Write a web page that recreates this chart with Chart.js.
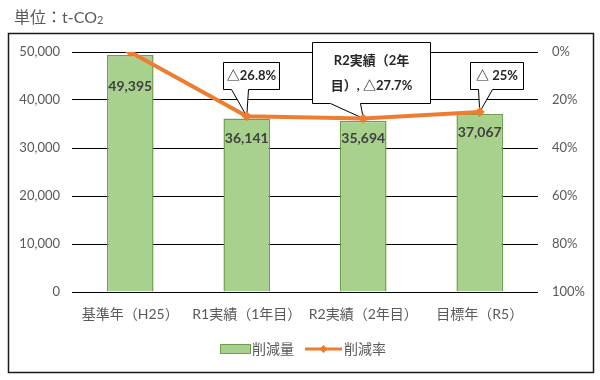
<!DOCTYPE html>
<html>
<head>
<meta charset="utf-8">
<script src="https://cdn.jsdelivr.net/npm/chart.js@4"></script>
<style>
html,body{margin:0;padding:0;background:#fff;}
#wrap{width:600px;height:380px;position:relative;}
</style>
</head>
<body>
<div id="wrap"><canvas id="c" width="600" height="380"></canvas></div>
<script>
const categories = ['基準年（H25）', 'R1実績（1年目）', 'R2実績（2年目）', '目標年（R5）'];
const reductionAmount = [49395, 36141, 35694, 37067];
const reductionRate = [0, 26.8, 27.7, 25];
const seriesNames = ['削減量', '削減率'];
const calloutTexts = [null, ['△26.8%'], ['R2実績（2年', '目）, △27.7%'], ['△ 25%']];
const leftTickValues = [0, 10000, 20000, 30000, 40000, 50000];
const rightTickLabels = ['0%', '20%', '40%', '60%', '80%', '100%'];
const unitTitle = '単位：t-CO';

const FONT = "Lato, 'Noto Sans CJK JP', sans-serif";
const GREEN = '#a9d18e', GREEN_B = '#6f9f4c', ORANGE = '#ed7d31', TXT = '#595959';

const overlay = {
  id: 'overlay',
  beforeDatasetsDraw(chart) {
    const ctx = chart.ctx;
    const pts = chart.getDatasetMeta(1).data;
    const geo = [null,
      {l:-24, r:32, t:-54, b:-27, p1:-16, p2:1},
      {l:-51, r:67, t:-76, b:-15, p1:-33, p2:-3},
      {l:-10, r:43, t:-50, b:-23, p1:-2, p2:12}];
    calloutTexts.forEach((lines, i) => {
      if (!lines) return;
      const p = pts[i], g = geo[i];
      const x = Math.round(p.x), y = Math.round(p.y);
      const L = x + g.l + 0.5, R = x + g.r + 0.5, T = y + g.t + 0.5, B = y + g.b + 0.5;
      ctx.save();
      ctx.beginPath();
      ctx.moveTo(L, T); ctx.lineTo(R, T); ctx.lineTo(R, B);
      ctx.lineTo(x + g.p2 + 0.5, B); ctx.lineTo(p.x, p.y); ctx.lineTo(x + g.p1 + 0.5, B);
      ctx.lineTo(L, B); ctx.closePath();
      ctx.fillStyle = '#fff'; ctx.fill();
      ctx.strokeStyle = '#000'; ctx.lineWidth = 1; ctx.stroke();
      ctx.fillStyle = '#262626';
      ctx.font = "bold 13px " + FONT;
      ctx.textAlign = 'center'; ctx.textBaseline = 'middle';
      const cx = (L + R) / 2, cy = (T + B) / 2, lh = 25;
      lines.forEach((s, k) => {
        ctx.fillText(s, cx, cy + (k - (lines.length - 1) / 2) * lh);
      });
      ctx.restore();
    });
  },
  afterDatasetsDraw(chart) {
    const ctx = chart.ctx;
    const bars = chart.getDatasetMeta(0).data;
    const drop = [32, 20, 18, 18];
    ctx.save();
    ctx.font = "bold 14px " + FONT;
    ctx.fillStyle = '#404040';
    ctx.textAlign = 'center'; ctx.textBaseline = 'middle';
    bars.forEach((b, i) => {
      ctx.fillText(reductionAmount[i].toLocaleString('en-US'), b.x, b.y + drop[i]);
    });
    ctx.restore();
  },
  afterDraw(chart) {
    const ctx = chart.ctx;
    ctx.save();
    ctx.strokeStyle = '#1a1a1a'; ctx.lineWidth = 1.5;
    ctx.strokeRect(8.5, 33.5, 585, 339);
    ctx.fillStyle = TXT;
    ctx.textBaseline = 'alphabetic'; ctx.textAlign = 'left';
    ctx.font = "16px " + FONT;
    ctx.fillText(unitTitle, 14, 23);
    const w = ctx.measureText(unitTitle).width;
    ctx.font = "11px " + FONT;
    ctx.fillText('2', 14 + w, 24);
    const ly = 349;
    ctx.fillStyle = GREEN; ctx.strokeStyle = GREEN_B; ctx.lineWidth = 1;
    ctx.fillRect(220.5, ly - 4.5, 30, 9); ctx.strokeRect(220.5, ly - 4.5, 30, 9);
    ctx.fillStyle = TXT; ctx.font = "14px " + FONT; ctx.textBaseline = 'middle';
    ctx.fillText(seriesNames[0], 252, ly);
    ctx.strokeStyle = ORANGE; ctx.lineWidth = 3;
    ctx.beginPath(); ctx.moveTo(305, ly); ctx.lineTo(342, ly); ctx.stroke();
    ctx.fillStyle = ORANGE;
    ctx.beginPath(); ctx.moveTo(323.5, ly - 4); ctx.lineTo(327.5, ly); ctx.lineTo(323.5, ly + 4); ctx.lineTo(319.5, ly); ctx.closePath(); ctx.fill();
    ctx.fillStyle = TXT;
    ctx.fillText(seriesNames[1], 344, ly);
    ctx.restore();
  }
};

new Chart(document.getElementById('c'), {
  data: {
    labels: categories,
    datasets: [
      {
        type: 'bar', label: seriesNames[0], data: reductionAmount, yAxisID: 'y',
        backgroundColor: GREEN, borderColor: GREEN_B, borderWidth: 1.5,
        categoryPercentage: 1, barPercentage: 0.4, order: 2
      },
      {
        type: 'line', label: seriesNames[1], data: reductionRate, yAxisID: 'y1',
        borderColor: ORANGE, backgroundColor: ORANGE, borderWidth: 4,
        pointStyle: 'rectRot', pointRadius: 5, pointBackgroundColor: ORANGE, pointBorderWidth: 0,
        tension: 0, order: 1
      }
    ]
  },
  options: {
    responsive: false, animation: false, devicePixelRatio: 1,
    layout: { padding: { top: 52, left: 0, right: 0, bottom: 0 } },
    plugins: { legend: { display: false }, tooltip: { enabled: false } },
    scales: {
      x: {
        grid: { display: false }, border: { display: false },
        ticks: { color: TXT, font: { family: FONT, size: 14 }, padding: 6, maxRotation: 0, autoSkip: false },
        afterFit(s) { s.height = 88; }
      },
      y: {
        position: 'left', min: 0, max: 50000,
        afterBuildTicks(s) { s.ticks = leftTickValues.map(v => ({ value: v })); },
        grid: { color: '#000', lineWidth: 1, drawTicks: false },
        border: { display: false },
        ticks: { color: TXT, font: { family: FONT, size: 13 }, padding: 12,
          callback: v => Number(v).toLocaleString('en-US') },
        afterFit(s) { s.width = 72; }
      },
      y1: {
        position: 'right', min: 0, max: 100, reverse: true,
        afterBuildTicks(s) { s.ticks = rightTickLabels.map(t => ({ value: parseFloat(t) })); },
        grid: { display: false, drawTicks: false }, border: { display: false },
        ticks: { color: TXT, font: { family: FONT, size: 13 }, padding: 14,
          callback: (v, i) => rightTickLabels[i] },
        afterFit(s) { s.width = 62; }
      }
    }
  },
  plugins: [overlay]
});
</script>
</body>
</html>
